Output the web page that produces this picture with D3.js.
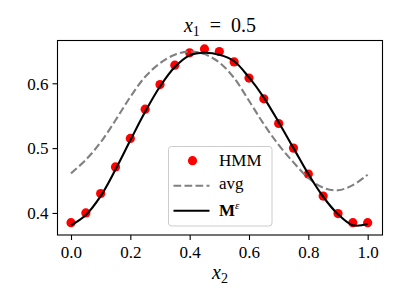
<!DOCTYPE html>
<html>
<head>
<meta charset="utf-8">
<script src="https://cdn.jsdelivr.net/npm/d3@7"></script>
<style>
  body { margin: 0; background: #fff; }
  svg text, svg tspan { font-family: "Liberation Serif", serif; fill: #000; }
</style>
</head>
<body>
<script>
// data
var x2 = [0, 0.05, 0.1, 0.15, 0.2, 0.25, 0.3, 0.35, 0.4, 0.45, 0.5,
  0.55, 0.6, 0.65, 0.7, 0.75, 0.8, 0.85, 0.9, 0.95, 1.0];
var hmm = [0.385, 0.400, 0.430, 0.471, 0.515, 0.560, 0.598, 0.628, 0.647, 0.653, 0.649,
  0.633, 0.608, 0.576, 0.538, 0.500, 0.460, 0.426, 0.399, 0.385, 0.385];
var avg = [0.461, 0.482, 0.509, 0.543, 0.579, 0.610, 0.631, 0.644, 0.649, 0.645, 0.632,
  0.608, 0.573, 0.537, 0.505, 0.478, 0.454, 0.439, 0.435, 0.443, 0.459];
var mEps = [0.381, 0.397, 0.426, 0.467, 0.512, 0.556, 0.595, 0.625, 0.643, 0.647, 0.644,
  0.634, 0.609, 0.578, 0.540, 0.500, 0.460, 0.425, 0.398, 0.381, 0.383];
var xTicks = [0, 0.2, 0.4, 0.6, 0.8, 1.0];
var yTicks = [0.4, 0.5, 0.6];

var W = 400, H = 300;
var m = { left: 57.5, right: 382.5, top: 40.5, bottom: 235 };
var serif = "'Liberation Serif', serif";

var svg = d3.select("body").append("svg")
  .attr("width", W)
  .attr("height", H);

var x = d3.scaleLinear().domain([-0.0455, 1.05]).range([m.left, m.right]);
var y = d3.scaleLinear().domain([0.366, 0.666]).range([m.bottom, m.top]);

// points first, then avg, then M on top (same order as the legend)
svg.append("g").selectAll("circle")
  .data(x2)
  .enter().append("circle")
  .attr("cx", function (d) { return x(d); })
  .attr("cy", function (d, i) { return y(hmm[i]); })
  .attr("r", 4.6)
  .attr("fill", "#ff0000");

var line = function (vals) {
  return d3.line()
    .x(function (d) { return x(d); })
    .y(function (d, i) { return y(vals[i]); })
    .curve(d3.curveCatmullRom)(x2);
};

svg.append("path")
  .attr("d", line(avg))
  .attr("fill", "none")
  .attr("stroke", "#808080")
  .attr("stroke-width", 2.1)
  .attr("stroke-dasharray", "7.7,3.3");

svg.append("path")
  .attr("d", line(mEps))
  .attr("fill", "none")
  .attr("stroke", "#000")
  .attr("stroke-width", 2.1);

// axes
var xAxis = svg.append("g")
  .attr("transform", "translate(0," + m.bottom + ")")
  .call(d3.axisBottom(x).tickValues(xTicks).tickFormat(d3.format(".1f")).tickSize(5).tickSizeOuter(0));
var yAxis = svg.append("g")
  .attr("transform", "translate(" + m.left + ",0)")
  .call(d3.axisLeft(y).tickValues(yTicks).tickFormat(d3.format(".1f")).tickSize(5).tickSizeOuter(0));
[xAxis, yAxis].forEach(function (g) {
  g.attr("font-family", null).attr("font-size", null);
  g.select(".domain").remove();
  g.selectAll("line").attr("stroke", "#000").attr("stroke-width", 1.1);
  g.selectAll("text").style("font-family", serif).style("font-size", "17px").attr("fill", "#000");
});
xAxis.selectAll("text").attr("dy", "0.9em");
yAxis.selectAll("text").attr("x", -9).attr("dy", "0.34em");

svg.append("rect")
  .attr("x", m.left).attr("y", m.top)
  .attr("width", m.right - m.left).attr("height", m.bottom - m.top)
  .attr("fill", "none")
  .attr("stroke", "#000")
  .attr("stroke-width", 1.1);

// title
var title = svg.append("text")
  .attr("x", (m.left + m.right) / 2)
  .attr("y", 32)
  .attr("text-anchor", "middle")
  .style("font-family", serif)
  .style("font-size", "20px")
  .style("white-space", "pre");
title.append("tspan").style("font-style", "italic").text("x");
title.append("tspan").attr("dy", 4).style("font-size", "14px").text("1");
title.append("tspan").attr("dy", -4).text("  =  0.5");

// x label
var xl = svg.append("text")
  .attr("x", (m.left + m.right) / 2)
  .attr("y", 279)
  .attr("text-anchor", "middle")
  .style("font-family", serif)
  .style("font-size", "20px");
xl.append("tspan").style("font-style", "italic").text("x");
xl.append("tspan").attr("dy", 4).style("font-size", "14px").text("2");

// legend
var lg = svg.append("g");
lg.append("rect")
  .attr("x", 168.5).attr("y", 146.5)
  .attr("width", 103.5).attr("height", 79.5)
  .attr("rx", 3)
  .attr("fill", "#fff")
  .attr("fill-opacity", 0.8)
  .attr("stroke", "#cccccc")
  .attr("stroke-width", 1);

var rows = [160.7, 185.7, 210.7];
lg.append("circle").attr("cx", 192.5).attr("cy", rows[0]).attr("r", 4.6).attr("fill", "#ff0000");
lg.append("line").attr("x1", 173.5).attr("x2", 209.5).attr("y1", rows[1]).attr("y2", rows[1])
  .attr("stroke", "#808080").attr("stroke-width", 2.1).attr("stroke-dasharray", "7.7,3.3");
lg.append("line").attr("x1", 173.5).attr("x2", 209.5).attr("y1", rows[2]).attr("y2", rows[2])
  .attr("stroke", "#000").attr("stroke-width", 2.1);

lg.append("text").attr("x", 219).attr("y", rows[0] + 5.5).style("font-family", serif).style("font-size", "17px").text("HMM");
lg.append("text").attr("x", 219).attr("y", rows[1] + 3.5).style("font-family", serif).style("font-size", "17px").text("avg");
var mt = lg.append("text").attr("x", 219).attr("y", rows[2] + 5.5).style("font-family", serif).style("font-size", "17px");
mt.append("tspan").style("font-weight", "bold").text("M");
mt.append("tspan").attr("dy", -7).style("font-size", "11px").style("font-style", "italic").text("ε");
</script>
</body>
</html>
